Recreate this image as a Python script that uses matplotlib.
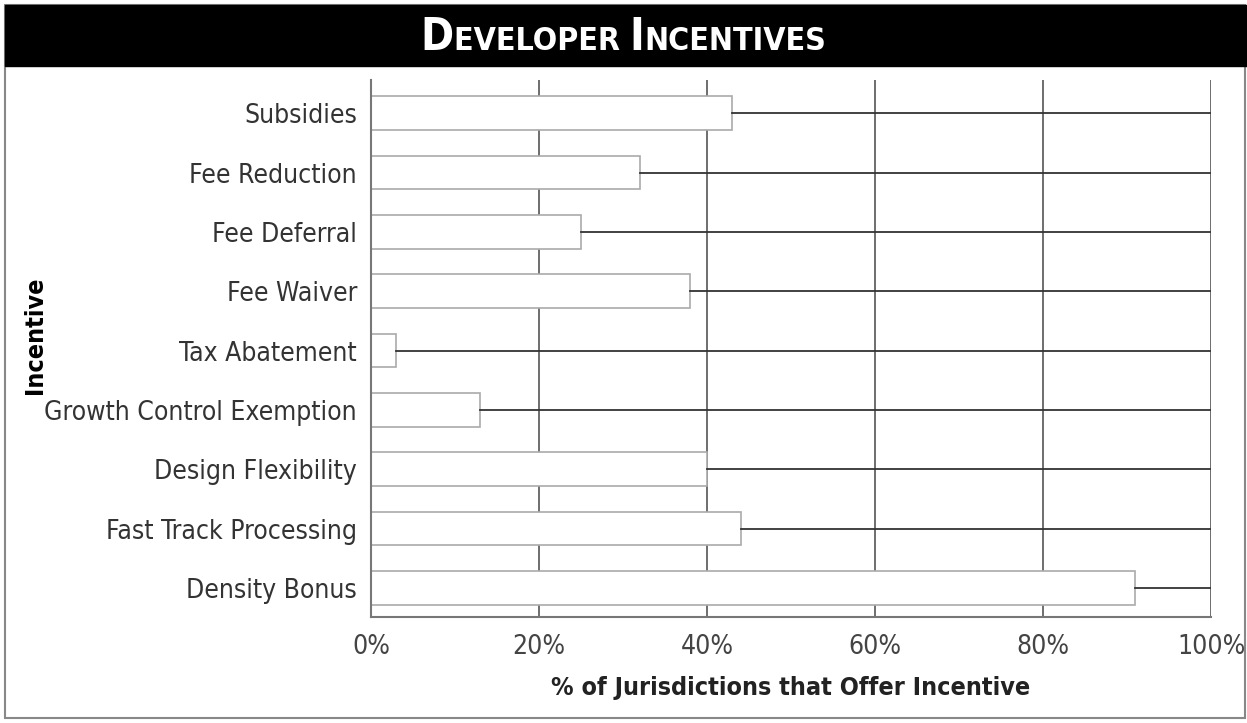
import matplotlib
matplotlib.use('Agg')
import matplotlib.pyplot as plt
from matplotlib.patches import Rectangle

incentives = ['Subsidies', 'Fee Reduction', 'Fee Deferral', 'Fee Waiver',
	'Tax Abatement', 'Growth Control Exemption', 'Design Flexibility',
	'Fast Track Processing', 'Density Bonus']
percent = [43, 32, 25, 38, 3, 13, 40, 44, 91]
ticks = [0, 20, 40, 60, 80, 100]
tick_labels = ['0%', '20%', '40%', '60%', '80%', '100%']

plt.rcParams['font.family'] = ['DejaVu Sans']
plt.rcParams['font.stretch'] = 'condensed'


def main():
	fig = plt.figure(figsize=(12.47, 7.23), dpi=100)
	ax = fig.add_axes([371 / 1247, 1 - 617 / 723, 840 / 1247, 537 / 723])

	pos = list(range(len(incentives)))

	# gridlines go under the white bars
	for t in ticks[1:]:
		ax.axvline(t, color='#555555', linewidth=1.2, zorder=1)

	ax.barh(pos, percent, height=0.57, color='white', edgecolor='#aaaaaa',
		linewidth=1.2, zorder=2)
	for p, v in zip(pos, percent):
		ax.plot([v, 100], [p, p], color='#333333', linewidth=1.3, zorder=3)

	ax.set_xlim(0, 100)
	ax.set_ylim(8.49, -0.56)
	ax.set_yticks(pos)
	ax.set_yticklabels(incentives, fontsize=19, stretch='condensed')
	ax.set_xticks(ticks)
	ax.set_xticklabels(tick_labels, fontsize=19, color='#444444', stretch='condensed')
	ax.tick_params(axis='y', length=0, pad=10)
	ax.tick_params(axis='x', length=0, pad=12)
	for lbl in ax.get_yticklabels():
		lbl.set_color('#333333')

	ax.spines['top'].set_visible(False)
	ax.spines['right'].set_visible(False)
	ax.spines['left'].set_color('#777777')
	ax.spines['bottom'].set_color('#777777')
	ax.spines['left'].set_linewidth(1.5)
	ax.spines['bottom'].set_linewidth(1.5)

	ax.set_xlabel('% of Jurisdictions that Offer Incentive', fontsize=18,
		fontweight='bold', labelpad=12, color='#222222', stretch='condensed')
	fig.text(35 / 1247, 1 - 335 / 723, 'Incentive', rotation=90, fontsize=18,
		fontweight='bold', ha='center', va='center', stretch='condensed')

	# figure frame and title bar
	fig.patches.append(Rectangle((5 / 1247, 5 / 723), 1240 / 1247, 713 / 723,
		transform=fig.transFigure, fill=False, edgecolor='#888888', linewidth=1.5))
	fig.patches.append(Rectangle((5 / 1247, 1 - 66 / 723), 1242 / 1247, 61 / 723,
		transform=fig.transFigure, facecolor='black', edgecolor='black'))

	# small caps title, piece by piece
	pieces = [('D', 32), ('EVELOPER ', 23), ('I', 32), ('NCENTIVES', 23)]
	renderer = fig.canvas.get_renderer()
	texts = []
	x = 0
	for s, size in pieces:
		t = fig.text(x, 1 - 50 / 723, s, fontsize=size, fontweight='bold',
			color='white', ha='left', va='baseline', stretch='condensed')
		bb = t.get_window_extent(renderer)
		x += bb.width / 1247
		texts.append(t)
	start = 0.5 - x / 2
	off = 0
	for t in texts:
		bb = t.get_window_extent(renderer)
		t.set_x(start + off)
		off += bb.width / 1247

	fig.savefig('out.png', dpi=100)


if __name__ == '__main__':
	main()
